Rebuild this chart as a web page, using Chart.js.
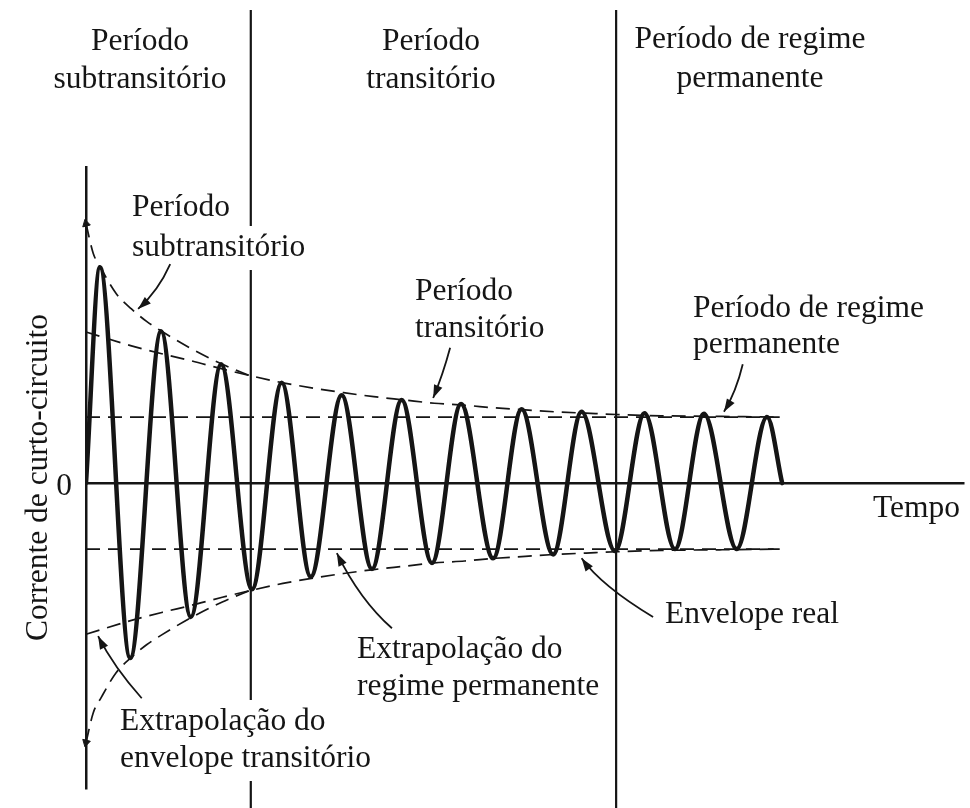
<!DOCTYPE html>
<html>
<head>
<meta charset="utf-8">
<script src="https://cdn.jsdelivr.net/npm/chart.js@4.4.1/dist/chart.umd.min.js"></script>
<style>
  html, body { margin: 0; padding: 0; background: #fff; }
</style>
</head>
<body>
<canvas id="curto-chart" width="970" height="808"></canvas>
<script>
// time in cycles from the fault, current in per-unit of the steady-state peak
// (start, every peak / trough, end)
const waveT = [0, 0.23, 0.73, 1.24, 1.73, 2.23, 2.74, 3.23, 3.71, 4.22, 4.72, 5.21, 5.71,
  6.19, 6.72, 7.19, 7.71, 8.18, 8.73, 9.22, 9.72, 10.20, 10.74, 11.24, 11.49];
const waveI = [0, 3.27, -2.65, 2.30, -2.03, 1.80, -1.61, 1.52, -1.42, 1.33, -1.30, 1.26, -1.21,
  1.20, -1.14, 1.12, -1.08, 1.08, -1.03, 1.06, -1.00, 1.05, -1.00, 1.00, 0];

// envelope of the subtransient period
const subT = [0, 0.12, 0.25, 0.5, 0.75, 1.0, 1.25, 1.75, 2.25, 2.75];
const subAmp = [3.93, 3.48, 3.25, 2.87, 2.64, 2.45, 2.30, 2.03, 1.80, 1.61];

// transient envelope (extrapolated back to t = 0)
const tranT = [0, 0.75, 1.25, 1.75, 2.25, 2.75, 3.25, 3.75, 4.25, 4.75, 5.25, 5.75, 6.25, 6.75,
  7.25, 7.75, 8.25, 8.75, 9.5, 10.5, 11.45];
const tranAmp = [2.29, 2.08, 1.96, 1.85, 1.73, 1.62, 1.52, 1.44, 1.37, 1.31, 1.26, 1.21, 1.18, 1.14,
  1.11, 1.08, 1.06, 1.04, 1.02, 1.01, 1.00];

// steady state amplitude
const steadyT = [0, 11.45];
const steadyAmp = [1.0, 1.0];

// limits between the three periods
const periodBounds = [2.72, 8.75];

const serif = "'Liberation Serif', 'Times New Roman', serif";
const ink = '#151515';
const fontPx = 31.5;

function pts(xs, ys) {
  return xs.map((x, k) => ({ x: x, y: ys[k] }));
}
function neg(ys) {
  return ys.map(v => -v);
}

const dashed = {
  borderColor: ink,
  borderWidth: 1.7,
  borderDash: [14, 8],
  pointRadius: 0,
  cubicInterpolationMode: 'monotone',
  fill: false
};

const tipStyle = {
  clip: false,
  pointStyle: 'triangle',
  pointRadius: ctx => ctx.dataIndex === 0 ? 4.5 : 0,
  pointBackgroundColor: ink,
  pointBorderColor: ink,
  pointBorderWidth: 1
};

// labels (pixel baselines) and arrows (data coords)
const notes = [
  { lines: ['Período', 'subtransitório'], x: 140, y: 50, lh: 38, align: 'center' },
  { lines: ['Período', 'transitório'], x: 431, y: 50, lh: 38, align: 'center' },
  { lines: ['Período de regime', 'permanente'], x: 750, y: 48, lh: 39, align: 'center' },
  { lines: ['Período', 'subtransitório'], x: 132, y: 216, lh: 40, align: 'left', mask: true },
  { lines: ['Período', 'transitório'], x: 415, y: 300, lh: 37, align: 'left' },
  { lines: ['Período de regime', 'permanente'], x: 693, y: 317, lh: 36, align: 'left' },
  { lines: ['Tempo'], x: 873, y: 517, lh: 37, align: 'left' },
  { lines: ['Extrapolação do', 'regime permanente'], x: 357, y: 658, lh: 37, align: 'left' },
  { lines: ['Envelope real'], x: 665, y: 623, lh: 37, align: 'left' },
  { lines: ['Extrapolação do', 'envelope transitório'], x: 120, y: 730, lh: 37, align: 'left', mask: true }
];

const arrows = [
  { from: [1.39, 3.32], ctrl: [1.19, 2.91], to: [0.86, 2.64] },
  { from: [6.01, 2.05], ctrl: [5.89, 1.64], to: [5.73, 1.29] },
  { from: [10.84, 1.80], ctrl: [10.73, 1.38], to: [10.53, 1.08] },
  { from: [5.05, -2.20], ctrl: [4.52, -1.77], to: [4.14, -1.06] },
  { from: [9.36, -2.03], ctrl: [8.51, -1.56], to: [8.18, -1.14] },
  { from: [0.92, -3.26], ctrl: [0.46, -2.79], to: [0.20, -2.32] }
];

const notesPlugin = {
  id: 'notes',
  beforeDatasetsDraw(chart) {
    const { ctx } = chart;
    const xs = chart.scales.x;
    ctx.save();
    ctx.strokeStyle = ink;
    ctx.lineWidth = 2.2;
    periodBounds.forEach(t => {
      const x = xs.getPixelForValue(t);
      ctx.beginPath();
      ctx.moveTo(x, 10);
      ctx.lineTo(x, chart.height);
      ctx.stroke();
    });
    // white patches where a label sits over a divider
    ctx.font = fontPx + 'px ' + serif;
    ctx.fillStyle = '#fff';
    notes.forEach(n => {
      if (!n.mask) return;
      n.lines.forEach((s, k) => {
        const w = ctx.measureText(s).width;
        const y = n.y + k * n.lh;
        const left = n.align === 'center' ? n.x - w / 2 : n.x;
        ctx.fillRect(left - 6, y - 30, w + 12, 44);
      });
    });
    ctx.restore();
  },
  afterDatasetsDraw(chart) {
    const { ctx } = chart;
    const xs = chart.scales.x, ys = chart.scales.y;
    const P = p => [xs.getPixelForValue(p[0]), ys.getPixelForValue(p[1])];
    ctx.save();
    ctx.strokeStyle = ink;
    ctx.fillStyle = ink;
    ctx.lineWidth = 1.8;
    arrows.forEach(a => {
      const f = P(a.from), c = P(a.ctrl), t = P(a.to);
      ctx.beginPath();
      ctx.moveTo(f[0], f[1]);
      ctx.quadraticCurveTo(c[0], c[1], t[0], t[1]);
      ctx.stroke();
      const ang = Math.atan2(t[1] - c[1], t[0] - c[0]);
      const len = 13, half = 4.5;
      ctx.beginPath();
      ctx.moveTo(t[0], t[1]);
      ctx.lineTo(t[0] - len * Math.cos(ang) + half * Math.sin(ang), t[1] - len * Math.sin(ang) - half * Math.cos(ang));
      ctx.lineTo(t[0] - len * Math.cos(ang) - half * Math.sin(ang), t[1] - len * Math.sin(ang) + half * Math.cos(ang));
      ctx.closePath();
      ctx.fill();
    });
    ctx.font = fontPx + 'px ' + serif;
    ctx.textBaseline = 'alphabetic';
    notes.forEach(n => {
      ctx.textAlign = n.align;
      n.lines.forEach((s, k) => ctx.fillText(s, n.x, n.y + k * n.lh));
    });
    ctx.restore();
  }
};

new Chart(document.getElementById('curto-chart'), {
  type: 'line',
  data: {
    datasets: [
      {
        label: 'Corrente',
        data: pts(waveT, waveI),
        borderColor: ink,
        borderWidth: 4.5,
        pointRadius: 0,
        cubicInterpolationMode: 'monotone',
        borderJoinStyle: 'round',
        borderCapStyle: 'round'
      },
      Object.assign({ label: 'Regime +', data: pts(steadyT, steadyAmp) }, dashed),
      Object.assign({ label: 'Regime -', data: pts(steadyT, neg(steadyAmp)) }, dashed),
      Object.assign({ label: 'Transitório +', data: pts(tranT, tranAmp), clip: false }, dashed),
      Object.assign({ label: 'Transitório -', data: pts(tranT, neg(tranAmp)), clip: false }, dashed),
      Object.assign({ label: 'Subtransitório +', data: pts(subT, subAmp), pointRotation: -14 }, dashed, tipStyle),
      Object.assign({ label: 'Subtransitório -', data: pts(subT, neg(subAmp)), pointRotation: 194 }, dashed, tipStyle)
    ]
  },
  options: {
    responsive: false,
    animation: false,
    layout: {
      padding: { top: 167, right: 5, bottom: 20, left: 0 }
    },
    scales: {
      x: {
        type: 'linear',
        min: 0,
        max: 14.5,
        display: false
      },
      y: {
        min: -4.62,
        max: 4.79,
        afterFit: s => {
          s.width = 86;
          s.paddingTop = 0;
          s.paddingBottom = 0;
        },
        afterBuildTicks: s => { s.ticks = [{ value: 0 }]; },
        grid: {
          color: ink,
          lineWidth: 2.5,
          drawTicks: false
        },
        border: {
          color: ink,
          width: 2.5
        },
        ticks: {
          font: { family: serif, size: fontPx },
          color: ink,
          padding: 14,
          labelOffset: 4
        },
        title: {
          display: true,
          text: 'Corrente de curto-circuito',
          font: { family: serif, size: fontPx },
          color: ink,
          padding: { top: 20, bottom: 0 }
        }
      }
    },
    plugins: {
      legend: {
        display: false
      },
      tooltip: {
        enabled: false
      }
    }
  },
  plugins: [notesPlugin]
});
</script>
</body>
</html>
